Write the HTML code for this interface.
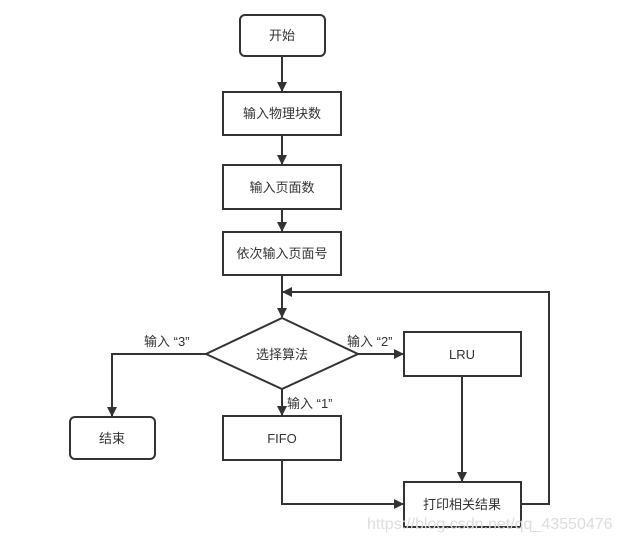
<!DOCTYPE html>
<html><head><meta charset="utf-8"><style>
html,body{margin:0;padding:0;background:#fff;}
svg{display:block;}
text{font-family:"Liberation Sans","Noto Sans CJK SC",sans-serif;font-size:13px;fill:#333;}
</style></head><body>
<svg width="620" height="541" viewBox="0 0 620 541" xmlns="http://www.w3.org/2000/svg">
<defs><marker id="a" markerWidth="10" markerHeight="10" refX="9" refY="5" orient="auto" markerUnits="userSpaceOnUse"><path d="M0,0 L10,5 L0,10 z" fill="#333"/></marker></defs>
<g fill="#fff" stroke="#333" stroke-width="2">
<rect x="240" y="15" width="85" height="41" rx="5"/>
<rect x="223" y="92" width="118" height="43"/>
<rect x="223" y="165" width="118" height="44"/>
<rect x="223" y="232" width="118" height="43"/>
<polygon points="282,318 358,354 282,389 206,354"/>
<rect x="404" y="332" width="117" height="44"/>
<rect x="70" y="417" width="85" height="42" rx="5"/>
<rect x="223" y="416" width="118" height="44"/>
<rect x="404" y="482" width="117" height="45"/>
</g>
<g fill="none" stroke="#333" stroke-width="2">
<line x1="282" y1="56" x2="282" y2="91" marker-end="url(#a)"/>
<line x1="282" y1="135" x2="282" y2="164" marker-end="url(#a)"/>
<line x1="282" y1="209" x2="282" y2="231" marker-end="url(#a)"/>
<line x1="282" y1="275" x2="282" y2="317" marker-end="url(#a)"/>
<polyline points="521,504 549,504 549,292 283,292" marker-end="url(#a)"/>
<line x1="358" y1="354" x2="403" y2="354" marker-end="url(#a)"/>
<polyline points="206,354 112,354 112,416" marker-end="url(#a)"/>
<line x1="282" y1="389" x2="282" y2="415" marker-end="url(#a)"/>
<line x1="462" y1="376" x2="462" y2="481" marker-end="url(#a)"/>
<polyline points="282,460 282,504 403,504" marker-end="url(#a)"/>
</g>
<g text-anchor="middle">
<text x="282" y="40">开始</text>
<text x="282" y="118">输入物理块数</text>
<text x="282" y="192">输入页面数</text>
<text x="282" y="258">依次输入页面号</text>
<text x="282" y="359">选择算法</text>
<text x="462" y="359">LRU</text>
<text x="112" y="443">结束</text>
<text x="282" y="443">FIFO</text>
<text x="462" y="509">打印相关结果</text>
</g>
<text x="144" y="346">输入 “3”</text>
<text x="347" y="346">输入 “2”</text>
<text x="287" y="408">输入 “1”</text>
<text x="367" y="529" style="font-size:16px;fill:#ddd;">https://blog.csdn.net/qq_43550476</text>
</svg>
</body></html>
